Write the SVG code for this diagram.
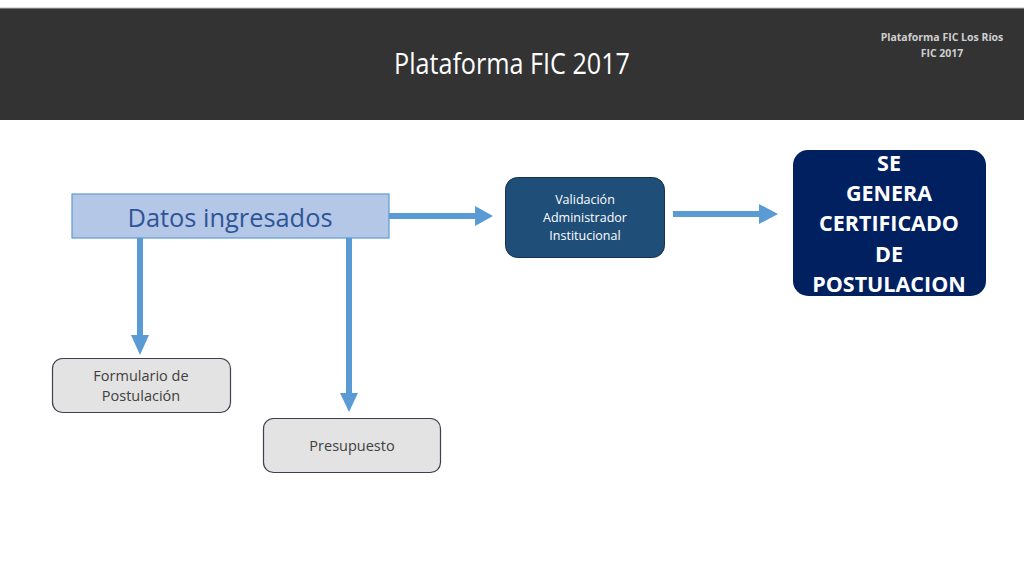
<svg xmlns="http://www.w3.org/2000/svg" width="1024" height="576" viewBox="0 0 1024 576">
<defs>
<style>
text{font-family:"Open Sans","Liberation Sans",sans-serif;text-anchor:middle}
.conn{stroke:#5b9bd5;stroke-width:6;fill:none}
.head{fill:#5b9bd5}
.gray rect{fill:#e3e3e3;stroke:#3f3f4f;stroke-width:1.2}
.gray text{fill:#404040;font-size:14.5px}
</style>
</defs>
<rect width="1024" height="576" fill="#ffffff"/>
<rect x="0" y="8" width="1024" height="112" fill="#333333"/>
<line x1="0" y1="8" x2="1024" y2="8" stroke="#bbbbbb" stroke-width="1"/>
<text x="512" y="74" font-size="30" fill="#ffffff" textLength="236" lengthAdjust="spacingAndGlyphs">Plataforma FIC 2017</text>
<text x="942" y="41" font-size="10.5" font-weight="bold" fill="#cfcfcf">Plataforma FIC Los Ríos</text>
<text x="942" y="57" font-size="10.5" font-weight="bold" fill="#cfcfcf">FIC 2017</text>

<g id="connectors">
<line class="conn" x1="389" y1="216" x2="477" y2="216"/>
<polygon class="head" points="475,206 493,216 475,226"/>
<line class="conn" x1="673" y1="214" x2="761" y2="214"/>
<polygon class="head" points="759,204 778,214 759,224"/>
<line class="conn" x1="140" y1="238" x2="140" y2="338"/>
<polygon class="head" points="131,335 140,355 149,335"/>
<line class="conn" x1="349" y1="238" x2="349" y2="396"/>
<polygon class="head" points="340,393 349,412 358,393"/>
</g>

<g id="datos">
<rect x="72" y="194" width="317" height="44" fill="#b4c7e7" stroke="#5b9bd5" stroke-width="1.2"/>
<text x="230" y="227" font-size="26" fill="#2f5597" textLength="205" lengthAdjust="spacingAndGlyphs">Datos ingresados</text>
</g>

<g id="validacion">
<rect x="505.5" y="177.5" width="159" height="80" rx="12" fill="#1f4e79" stroke="#14324f" stroke-width="1"/>
<text x="585" y="204" font-size="12.5" fill="#ffffff">Validación</text>
<text x="585" y="222" font-size="12.5" fill="#ffffff">Administrador</text>
<text x="585" y="240" font-size="12.5" fill="#ffffff">Institucional</text>
</g>

<g id="certificado">
<rect x="793" y="150" width="193" height="146" rx="15" fill="#002060"/>
<g font-size="21.5" font-weight="bold" fill="#ffffff">
<text x="889" y="171">SE</text>
<text x="889" y="201">GENERA</text>
<text x="889" y="231">CERTIFICADO</text>
<text x="889" y="262">DE</text>
<text x="889" y="292">POSTULACION</text>
</g>
</g>

<g id="formulario" class="gray">
<rect x="52.5" y="358.5" width="178" height="54" rx="10"/>
<text x="141" y="381">Formulario de</text>
<text x="141" y="401">Postulación</text>
</g>

<g id="presupuesto" class="gray">
<rect x="263.5" y="418.5" width="177" height="54" rx="10"/>
<text x="352" y="451">Presupuesto</text>
</g>
</svg>
